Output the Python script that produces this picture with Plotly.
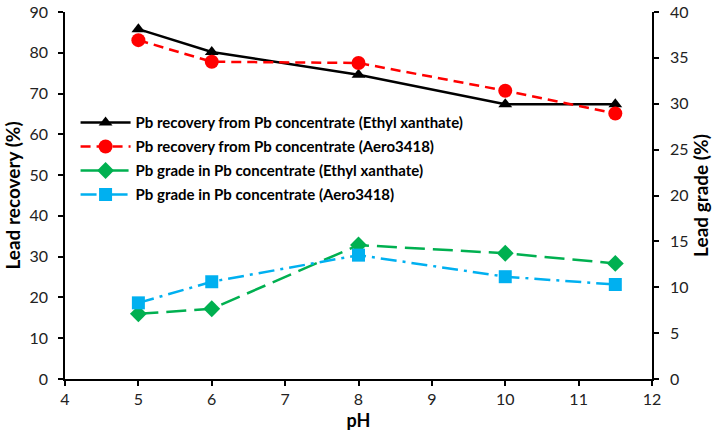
import plotly.graph_objects as go

ph = [5, 6, 8, 10, 11.5]
rec_ethyl = [85.8, 80.2, 74.6, 67.4, 67.4]
rec_aero = [83.1, 77.8, 77.5, 70.7, 65.1]
grade_ethyl = [7.1, 7.65, 14.6, 13.7, 12.6]
grade_aero = [8.3, 10.6, 13.5, 11.15, 10.3]

names = [
    "Pb recovery from Pb concentrate (Ethyl xanthate)",
    "Pb recovery from Pb concentrate (Aero3418)",
    "Pb grade in Pb concentrate (Ethyl xanthate)",
    "Pb grade in Pb concentrate (Aero3418)",
]

FONT = "Lato, sans-serif"

fig = go.Figure()
fig.add_trace(go.Scatter(x=ph, y=rec_ethyl, name=names[0], mode="lines+markers", legendgroup="a",
                         line=dict(color="black", width=2.5),
                         marker=dict(symbol="triangle-up", size=12, color="black")))
fig.add_trace(go.Scatter(x=ph, y=rec_aero, name=names[1], mode="lines+markers", legendgroup="b",
                         line=dict(color="#FF0000", width=2.5, dash="10px,6px"),
                         marker=dict(symbol="circle", size=14, color="#FF0000")))
fig.add_trace(go.Scatter(x=ph, y=grade_ethyl, name=names[2], mode="lines+markers", yaxis="y2", legendgroup="c",
                         line=dict(color="#00B050", width=2.5, dash="20px,8px"),
                         marker=dict(symbol="diamond", size=13, color="#00B050")))
fig.add_trace(go.Scatter(x=ph, y=grade_aero, name=names[3], mode="lines+markers", yaxis="y2", legendgroup="d",
                         line=dict(color="#00B0F0", width=2.5, dash="16px,6px,3px,6px"),
                         marker=dict(symbol="square", size=13, color="#00B0F0")))

axis_common = dict(showgrid=False, zeroline=False, showline=True, linecolor="black", linewidth=1.5,
                   ticks="outside", tickcolor="black", ticklen=5, tickwidth=1.5, automargin=False,
                   tickfont=dict(family=FONT, size=16, color="#222"))

title_font = dict(family=FONT, size=19, color="black")

fig.update_layout(
    width=720, height=431,
    margin=dict(l=65, r=68, t=12, b=52),
    plot_bgcolor="white", paper_bgcolor="white",
    xaxis=dict(range=[4, 12], dtick=1,
               title=dict(text="<b>pH</b>", font=dict(family=FONT, size=18, color="black"), standoff=7),
               ticklabelstandoff=0, **axis_common),
    yaxis=dict(range=[0, 90], dtick=10, title=dict(text="<b>Lead recovery (%)</b>", font=title_font, standoff=4),
               ticklabelstandoff=7, **axis_common),
    yaxis2=dict(range=[0, 40], dtick=5, overlaying="y", side="right",
                title=dict(text="<b>Lead grade (%)</b>", font=title_font, standoff=7),
                ticklabelstandoff=8, **axis_common),
    legend=dict(x=0.018, y=0.743, xanchor="left", yanchor="top", bgcolor="rgba(0,0,0,0)",
                font=dict(family=FONT, size=15, color="black"), itemwidth=50,
                traceorder="grouped", tracegroupgap=1.5),
    showlegend=True,
)
for tr in fig.data:
    tr.name = "<b>" + tr.name + "</b>"

fig.write_html("out.html", config={"displayModeBar": False},
               post_script="document.body.style.margin='0';document.body.style.overflow='hidden';")
